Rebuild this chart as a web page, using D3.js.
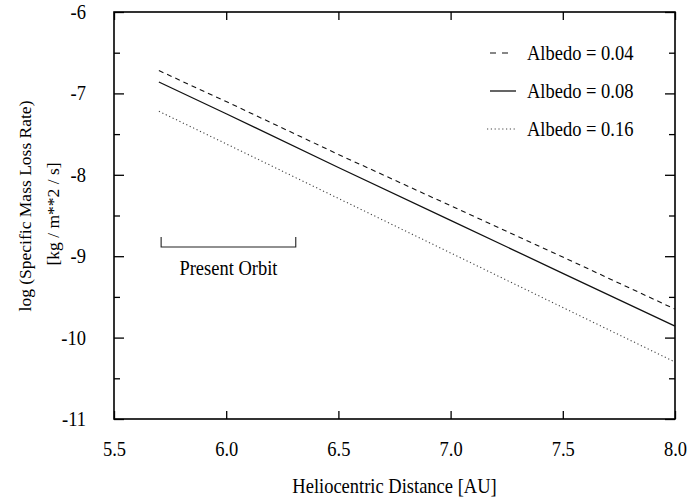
<!DOCTYPE html>
<html>
<head>
<meta charset="utf-8">
<script src="https://cdn.jsdelivr.net/npm/d3@7"></script>
<style>
  body { margin: 0; background: #fff; }
  svg text { font-family: "Liberation Serif", "Times New Roman", serif; fill: #000; }
  .tall { transform-box: fill-box; transform-origin: center; transform: scaleY(1.1); }
</style>
</head>
<body>
<script>
// values
var dist = [5.7, 6.0, 6.5, 7.0, 7.5, 8.0];
var albedo004 = [-6.72, -7.10, -7.75, -8.38, -9.01, -9.65];
var albedo008 = [-6.86, -7.25, -7.91, -8.56, -9.21, -9.86];
var albedo016 = [-7.22, -7.62, -8.29, -8.96, -9.63, -10.30];
var seriesNames = ['Albedo = 0.04', 'Albedo = 0.08', 'Albedo = 0.16'];
var xTicks = [5.5, 6.0, 6.5, 7.0, 7.5, 8.0];
var yTicks = [-6, -7, -8, -9, -10, -11];
var yMinor = [-6.5, -7.5, -8.5, -9.5, -10.5];
var orbit = [5.71, 6.31];

var width = 698, height = 497;
var pLeft = 114, pRight = 675, pTop = 12, pBottom = 419;
var fs = '18.5px';

var svg = d3.select('body').append('svg')
  .attr('width', width)
  .attr('height', height);

var x = d3.scaleLinear().domain([5.5, 8.0]).range([pLeft, pRight]);
var y = d3.scaleLinear().domain([-11, -6]).range([pBottom, pTop]);

var styles = [
  {dash: '5,4', width: 1.1, color: '#111'},
  {dash: null, width: 1.3, color: '#111'},
  {dash: '1.2,2.6', width: 1.1, color: '#444'}
];
var series = [albedo004, albedo008, albedo016];

// axes, ticks pointing inward
svg.append('g')
  .attr('transform', 'translate(' + pLeft + ',0)')
  .call(d3.axisLeft(y).tickValues(yTicks).tickSizeInner(-10).tickSizeOuter(0)
    .tickPadding(28).tickFormat(d => String(d)));
svg.append('g')
  .attr('transform', 'translate(' + pLeft + ',0)')
  .call(d3.axisLeft(y).tickValues(yMinor).tickSizeInner(-6).tickSizeOuter(0).tickFormat(''));
svg.append('g')
  .attr('transform', 'translate(' + pRight + ',0)')
  .call(d3.axisRight(y).tickValues(yTicks).tickSizeInner(-10).tickSizeOuter(0).tickFormat(''));
svg.append('g')
  .attr('transform', 'translate(' + pRight + ',0)')
  .call(d3.axisRight(y).tickValues(yMinor).tickSizeInner(-6).tickSizeOuter(0).tickFormat(''));
svg.append('g')
  .attr('transform', 'translate(0,' + pBottom + ')')
  .call(d3.axisBottom(x).tickValues(xTicks).tickSizeInner(-8).tickSizeOuter(0)
    .tickPadding(23).tickFormat(d3.format('.1f')));
svg.append('g')
  .attr('transform', 'translate(0,' + pTop + ')')
  .call(d3.axisTop(x).tickValues(xTicks).tickSizeInner(-8).tickSizeOuter(0).tickFormat(''));

svg.selectAll('.domain').remove();
svg.selectAll('.tick line').attr('stroke', '#000').attr('stroke-width', 1.3);
svg.selectAll('.tick text').attr('class', 'tall').style('font-size', fs).attr('fill', '#000');

svg.append('rect')
  .attr('x', pLeft).attr('y', pTop)
  .attr('width', pRight - pLeft).attr('height', pBottom - pTop)
  .attr('fill', 'none').attr('stroke', '#000').attr('stroke-width', 1.6);

// curves
var line = d3.line()
  .x((d, i) => x(dist[i]))
  .y(d => y(d));

svg.selectAll('path.curve')
  .data(series)
  .enter()
  .append('path')
  .attr('class', 'curve')
  .attr('d', line)
  .attr('fill', 'none')
  .attr('stroke', (d, i) => styles[i].color)
  .attr('stroke-width', (d, i) => styles[i].width)
  .attr('stroke-dasharray', (d, i) => styles[i].dash);

// legend
var legY = [53, 91, 129];
var leg = svg.selectAll('g.leg')
  .data(seriesNames)
  .enter()
  .append('g')
  .attr('class', 'leg')
  .attr('transform', (d, i) => 'translate(0,' + legY[i] + ')');
leg.append('line')
  .attr('x1', (d, i) => i == 2 ? 487 : 490)
  .attr('x2', (d, i) => i == 0 ? 514 : 516)
  .attr('y1', 0).attr('y2', 0)
  .attr('stroke', (d, i) => styles[i].color)
  .attr('stroke-width', (d, i) => styles[i].width)
  .attr('stroke-dasharray', (d, i) => i == 0 ? '6,6' : styles[i].dash);
leg.append('text')
  .attr('class', 'tall')
  .attr('x', 527)
  .attr('y', 6)
  .style('font-size', fs)
  .text(d => d);

// present orbit bracket
var by = 247;
svg.append('path')
  .attr('d', 'M' + x(orbit[0]) + ',' + (by - 10) + 'V' + by + 'H' + x(orbit[1]) + 'V' + (by - 10))
  .attr('fill', 'none')
  .attr('stroke', '#222')
  .attr('stroke-width', 1.1);
svg.append('text')
  .attr('class', 'tall')
  .attr('x', (x(orbit[0]) + x(orbit[1])) / 2)
  .attr('y', 274)
  .attr('text-anchor', 'middle')
  .style('font-size', fs)
  .text('Present Orbit');

// axis titles
svg.append('text')
  .attr('class', 'tall')
  .attr('x', (pLeft + pRight) / 2)
  .attr('y', 492)
  .attr('text-anchor', 'middle')
  .style('font-size', fs)
  .text('Heliocentric Distance [AU]');

svg.append('text')
  .attr('transform', 'translate(31,206) rotate(-90)')
  .attr('text-anchor', 'middle')
  .style('font-size', '17.5px')
  .text('log (Specific Mass Loss Rate)');
svg.append('text')
  .attr('transform', 'translate(59,214) rotate(-90)')
  .attr('text-anchor', 'middle')
  .style('font-size', '17.5px')
  .text('[kg / m**2 / s]');
</script>
</body>
</html>
